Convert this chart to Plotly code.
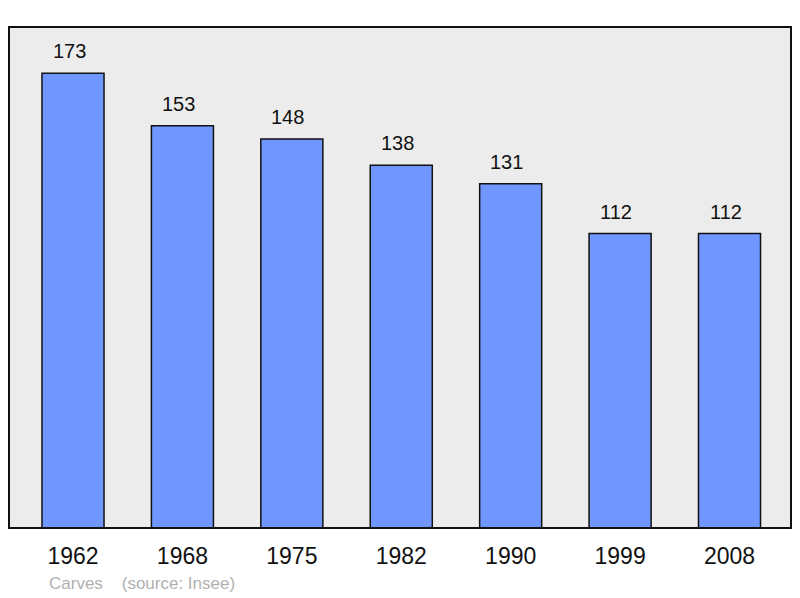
import plotly.graph_objects as go

years = ["1962", "1968", "1975", "1982", "1990", "1999", "2008"]
population = [173, 153, 148, 138, 131, 112, 112]
caption = "Carves    (source: Insee)"

xpos = list(range(len(years)))

fig = go.Figure()
fig.add_trace(go.Bar(
    x=xpos, y=population, width=0.567,
    marker=dict(color="#7097ff", line=dict(color="#111111", width=1.5)),
    hoverinfo="skip",
))

for xp, v in zip(xpos, population):
    fig.add_annotation(x=xp, y=v, text=str(v), showarrow=False,
                       yanchor="middle", yshift=22, xshift=-4,
                       font=dict(family="Liberation Sans, Arial", size=20, color="#111111"))

fig.add_annotation(xref="paper", yref="paper", x=(47 - 9) / 782, y=(528 - 583) / 501,
                   xanchor="left", yanchor="middle", showarrow=False, text=caption,
                   font=dict(family="Liberation Sans, Arial", size=17, color="#b0b0b0"))

fig.add_shape(type="rect", xref="paper", yref="paper", x0=0, y0=0, x1=1, y1=1,
              line=dict(color="#111111", width=2), layer="above")

fig.update_layout(
    width=800, height=598,
    margin=dict(l=9, r=9, t=27, b=70),
    paper_bgcolor="white", plot_bgcolor="#ececec",
    showlegend=False,
    xaxis=dict(range=[-0.585, 6.562], tickvals=xpos, ticktext=years,
               showgrid=False, zeroline=False, ticks="", ticklabelstandoff=12,
               tickfont=dict(family="Liberation Sans, Arial", size=23, color="#111111")),
    yaxis=dict(range=[0, 190.6], showgrid=False, zeroline=False, showticklabels=False, ticks=""),
)

fig.write_html("out.html", config={"displayModeBar": False},
               post_script="document.body.style.margin='0';")
